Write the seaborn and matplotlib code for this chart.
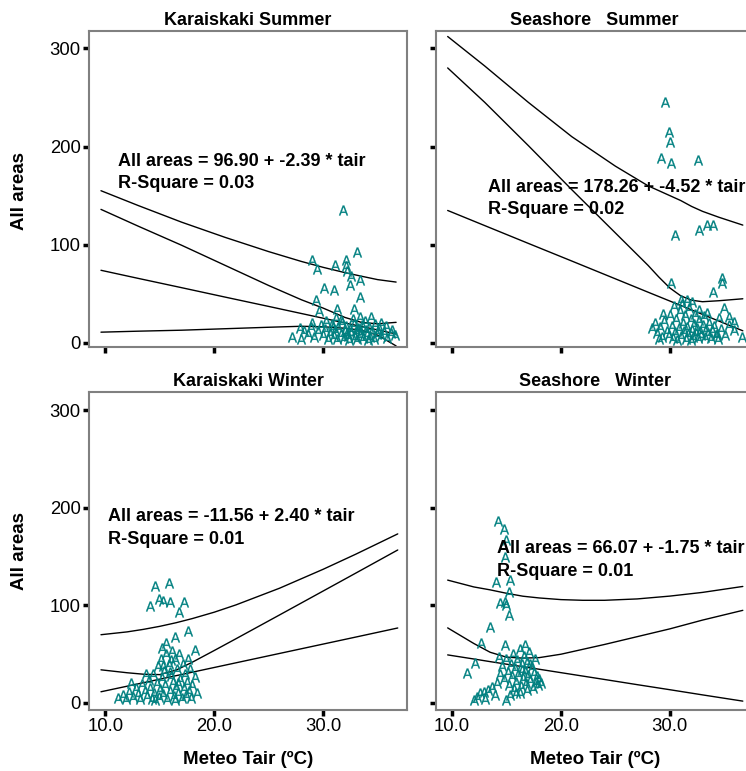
import numpy as np
import pandas as pd
import seaborn as sns
import matplotlib.pyplot as plt

sns.set_style("white")
plt.rcParams["font.family"] = ["Liberation Sans", "DejaVu Sans"]
plt.rcParams["text.color"] = "black"
plt.rcParams["xtick.color"] = "black"
plt.rcParams["ytick.color"] = "black"

# ---------------- values ----------------
titles = ["Karaiskaki Summer", "Seashore   Summer", "Karaiskaki Winter", "Seashore   Winter"]
equations = ["All areas = 96.90 + -2.39 * tair", "All areas = 178.26 + -4.52 * tair",
             "All areas = -11.56 + 2.40 * tair", "All areas = 66.07 + -1.75 * tair"]
rsquares = ["R-Square = 0.03", "R-Square = 0.02", "R-Square = 0.01", "R-Square = 0.01"]
x_ticks = [10, 20, 30]
x_ticklabels = ["10.0", "20.0", "30.0"]
y_ticks = [0, 100, 200, 300]

# Karaiskaki summer points
ks_x = [31.8, 33.1, 29.0, 29.4, 31.1, 32.1, 32.1, 32.2, 32.6, 33.4, 30.1, 31.0, 32.5, 33.4, 29.3,
        29.6, 31.3, 32.8, 31.6, 33.4, 34.4, 35.3, 36.2, 27.1, 27.9,
        28.2, 28.6, 28.9, 29.2, 29.5, 29.8, 30.0, 30.2, 30.4, 30.6, 30.8, 31.0, 31.1, 31.3, 31.4,
        31.6, 31.7, 31.9, 32.0, 32.1, 32.3, 32.4, 32.5, 32.6, 32.8, 32.9, 33.0, 33.1, 33.2, 33.4,
        33.5, 33.6, 33.7, 33.9, 34.0, 34.2, 34.3, 34.5, 34.7, 34.9, 35.1, 35.3, 35.6, 35.9, 36.3,
        36.6, 30.3, 31.2, 32.7, 33.8, 34.8, 35.8, 29.0, 28.0, 30.9, 32.2, 33.3, 34.1, 35.0]
ks_y = [135.7, 92.9, 84.0, 75.5, 79.6, 84.7, 77.9, 72.8, 68.4, 64.3, 55.8, 54.0, 59.2, 46.6, 43.9,
        33.0, 34.4, 34.4, 23.5, 26.8, 26.8, 20.1, 9.9, 6.4, 15.0,
        12, 9, 16, 6, 12, 18, 8, 14, 4, 10, 19, 7, 13, 4, 16,
        9, 21, 5, 12, 17, 7, 3, 14, 10, 19, 6, 12, 4, 15, 8,
        11, 18, 5, 13, 9, 16, 6, 12, 4, 9, 15, 7, 11, 5, 13,
        8, 22, 25, 24, 22, 19, 17, 20, 4, 16, 10, 14, 3, 12]

# Seashore summer points
ss_x = [29.6, 29.9, 30.0, 29.2, 30.1, 32.6, 32.7, 33.4, 34.0, 30.5, 30.1, 34.8, 34.8, 34.0, 31.6,
        31.0, 35.0, 35.4, 35.9, 32.7, 35.9, 36.6, 28.4, 34.2,
        28.8, 29.1, 29.3, 29.5, 29.7, 29.9, 30.0, 30.2, 30.3, 30.5, 30.6, 30.8, 30.9, 31.0, 31.2,
        31.3, 31.4, 31.5, 31.6, 31.7, 31.8, 31.9, 32.0, 32.1, 32.2, 32.3, 32.4, 32.5, 32.6, 32.7,
        32.8, 32.9, 33.0, 33.1, 33.2, 33.3, 33.5, 33.6, 33.8, 33.9, 34.1, 34.3, 34.5, 34.7, 35.1,
        35.4, 30.4, 31.1, 32.0, 29.4, 30.7, 31.9, 33.4, 34.4, 29.0, 28.6]
ss_y = [245, 214.6, 204.8, 188.5, 183.4, 186.7, 115.3, 120.4, 120.4, 110.2, 60.9, 66, 60.9, 52.3, 43.9,
        43.9, 35.4, 26.8, 21.7, 33.7, 13.3, 6.4, 15, 8.2,
        10, 16, 6, 22, 12, 8, 28, 17, 5, 11, 24, 15, 33, 7, 20,
        12, 28, 4, 16, 9, 36, 24, 13, 6, 19, 30, 10, 15, 5, 23,
        12, 8, 18, 27, 6, 14, 10, 20, 5, 13, 17, 9, 25, 14, 8,
        18, 38, 40, 42, 30, 3, 3, 31, 4, 4, 20]

# Karaiskaki winter points
kw_x = [14.6, 15.8, 14.9, 15.9, 15.3, 14.1, 17.2, 16.8, 17.6, 16.4, 18.2, 15.2, 15.6,
        11.2, 11.6, 11.9, 12.2, 12.5, 12.8, 13.0, 13.2, 13.4, 13.6, 13.8, 14.0, 14.1, 14.3, 14.4,
        14.5, 14.7, 14.8, 14.9, 15.0, 15.1, 15.2, 15.3, 15.4, 15.5, 15.6, 15.7, 15.8, 15.9, 16.0,
        16.1, 16.2, 16.3, 16.4, 16.5, 16.6, 16.7, 16.8, 16.9, 17.0, 17.1, 17.2, 17.3, 17.4, 17.5,
        17.7, 17.8, 17.9, 18.0, 18.2, 18.4, 15.3, 16.0, 16.4, 14.6, 15.9, 16.7, 17.6, 13.7, 12.4]
kw_y = [120, 123.4, 106.4, 103.9, 104.9, 99.5, 103.9, 93, 74.2, 68, 54.4, 56.1, 61.2,
        5, 8, 4, 11, 6, 15, 9, 4, 19, 12, 7, 24, 15, 4, 30,
        10, 20, 38, 6, 14, 45, 26, 9, 33, 18, 50, 4, 40, 12, 28,
        53, 22, 7, 45, 16, 35, 10, 50, 25, 5, 40, 15, 30, 8, 22,
        12, 35, 5, 18, 27, 10, 38, 44, 3, 3, 32, 20, 45, 30, 20]

# Seashore winter points
sw_x = [14.2, 14.8, 15.0, 14.9, 14.0, 15.3, 15.2, 14.4, 14.9, 15.0, 15.2, 13.5, 12.7, 14.9, 16.7,
        14.3, 11.4, 12.1,
        12.0, 12.6, 13.3, 14.1, 15.0, 15.9, 12.3, 12.9, 13.0, 13.7, 13.9,
        14.6, 14.8, 15.0, 15.1, 15.2, 15.4, 15.5, 15.6, 15.7, 15.8, 15.9, 16.0, 16.1, 16.2, 16.3,
        16.4, 16.5, 16.6, 16.7, 16.8, 16.9, 17.0, 17.1, 17.2, 17.3, 17.4, 17.5, 17.6, 17.7, 17.8,
        17.9, 18.0, 18.2, 16.2, 16.9, 15.3, 14.4, 17.2, 16.4]
sw_y = [187, 178, 167, 150, 124.4, 126.2, 114.2, 102.3, 103.9, 100.5, 90.3, 78.3, 61.2, 59.5, 59.5,
        47.5, 30.5, 40.7,
        3.1, 9.9, 13.3, 20.2, 3.1, 9.9, 6, 11, 4, 16, 8,
        38, 25, 45, 32, 18, 40, 28, 50, 14, 36, 22, 44, 30, 55, 17,
        40, 26, 48, 33, 20, 42, 29, 52, 24, 37, 15, 31, 45, 22, 28,
        18, 25, 20, 10, 13, 8, 30, 40, 34]

# fitted line and interval curves (knots)
ks_lx = [9.6, 13, 17, 21, 25, 28, 30, 32, 33.5, 35, 36.7]
ks_pi = [155, 140, 123, 107.5, 93, 83, 77, 71.6, 68, 64.5, 62]
ks_ci_hi = [136, 119, 99.5, 79, 58.5, 44, 35.5, 26, 21, 19.5, 21]
ks_fit = [74, 65.8, 56.3, 46.7, 37.2, 30, 25.2, 20.4, 16.8, 13.3, 9.2]
ks_ci_lo = [11, 12, 13, 14.5, 16, 17, 16.5, 15, 13, 8, -3]

ss_lx = [9.6, 13, 17, 21, 25, 28, 29, 30, 31, 32, 33, 34.5, 36.7]
ss_pi = [312, 282, 245, 210, 180, 160, 155, 150, 145, 139, 134, 128, 120]
ss_ci_hi = [280, 245, 201, 156, 112, 79, 67, 56, 48, 43.5, 42, 43, 45]
ss_fit = [134.9, 119.5, 101.4, 83.4, 65.3, 51.7, 47.2, 42.7, 38.2, 33.6, 29.1, 22.3, 12.4]

kw_lx = [9.6, 12, 13.5, 15, 16.5, 18, 20, 22, 26, 30, 33, 36.85]
kw_pi = [70, 72.9, 75.5, 78.6, 82.3, 86.6, 93.1, 100.6, 117.7, 137.1, 152.6, 173.4]
kw_ci_hi = [34, 31, 29.5, 29.1, 33.7, 41.9, 53.8, 65.9, 90.3, 114.8, 133.2, 156.9]
kw_fit = [11.5, 17.2, 20.8, 24.4, 28.0, 31.6, 36.4, 41.2, 50.8, 60.4, 67.6, 76.9]

sw_lx = [9.6, 12, 13.5, 15, 16.5, 18, 20, 22, 24, 27, 30, 33, 36.7]
sw_pi = [126, 119, 116, 112.5, 109.5, 107.7, 106, 105.3, 105.3, 106.7, 109.6, 113.4, 119.5]
sw_ci_hi = [77, 61, 52, 47, 46, 46.5, 50, 55, 60, 68, 76, 85, 95]
sw_fit = [49.3, 45.1, 42.4, 39.8, 37.2, 34.6, 31.1, 27.6, 24.1, 18.8, 13.6, 8.3, 1.9]

# text positions (data units)
eq_pos = [(11.2, 184.8), (13.3, 158), (10.2, 190.8), (14.1, 158)]
rsq_pos = [(11.2, 162.5), (13.3, 135.7), (10.2, 168), (14.1, 135)]

# ---------------- drawing ----------------
W, H = 746, 771
fig = plt.figure(figsize=(W / 100, H / 100), dpi=100)

teal = "#008080"
boxes = [(89, 31, 318, 316), (435.7, 31, 318, 316), (89, 392, 318, 318), (435.7, 392, 318, 318)]
ylims = [(-4.1, 317.6), (-4.1, 317.6), (-7.2, 318.9), (-7.2, 318.9)]
points = [(ks_x, ks_y), (ss_x, ss_y), (kw_x, kw_y), (sw_x, sw_y)]
curves = [(ks_lx, [ks_pi, ks_ci_hi, ks_fit, ks_ci_lo]),
          (ss_lx, [ss_pi, ss_ci_hi, ss_fit]),
          (kw_lx, [kw_pi, kw_ci_hi, kw_fit]),
          (sw_lx, [sw_pi, sw_ci_hi, sw_fit])]

for i in range(4):
    l, t, w, h = boxes[i]
    ax = fig.add_axes([l / W, 1 - (t + h) / H, w / W, h / H])

    for ys in curves[i][1]:
        sns.lineplot(x=curves[i][0], y=ys, ax=ax, color="black", lw=1.0,
                     estimator=None, sort=False)

    px, py = points[i]
    sns.scatterplot(x=px, y=py, ax=ax, marker=r"$\mathsf{A}$", s=50,
                    color=teal, edgecolor=teal, linewidth=0.2, zorder=3)

    ax.text(*eq_pos[i], equations[i], fontsize=13, fontweight="bold", va="center", ha="left")
    ax.text(*rsq_pos[i], rsquares[i], fontsize=13, fontweight="bold", va="center", ha="left")

    ax.set_xlim(8.5, 37.7)
    ax.set_ylim(*ylims[i])
    ax.set_xticks(x_ticks)
    ax.set_xticklabels(x_ticklabels)
    ax.set_yticks(y_ticks)
    ax.tick_params(direction="out", length=4, width=2.5, color="black",
                   labelsize=13.3, pad=2, bottom=True, left=True)
    if i < 2:
        ax.tick_params(labelbottom=False)
    if i % 2 == 1:
        ax.tick_params(labelleft=False)
    for sp in ax.spines.values():
        sp.set_color("#808080")
        sp.set_linewidth(1.5)
    ax.set_title(titles[i], fontsize=13, fontweight="bold", pad=4)

fig.text(19 / W, 1 - 191 / H, "All areas", rotation=90, ha="center", va="center",
         fontsize=13.5, fontweight="bold")
fig.text(19 / W, 1 - 551 / H, "All areas", rotation=90, ha="center", va="center",
         fontsize=13.5, fontweight="bold")
fig.text(248 / W, 1 - 759 / H, "Meteo Tair (ºC)", ha="center", va="center",
         fontsize=13.5, fontweight="bold")
fig.text(595 / W, 1 - 759 / H, "Meteo Tair (ºC)", ha="center", va="center",
         fontsize=13.5, fontweight="bold")

fig.savefig("out.png", dpi=100)
